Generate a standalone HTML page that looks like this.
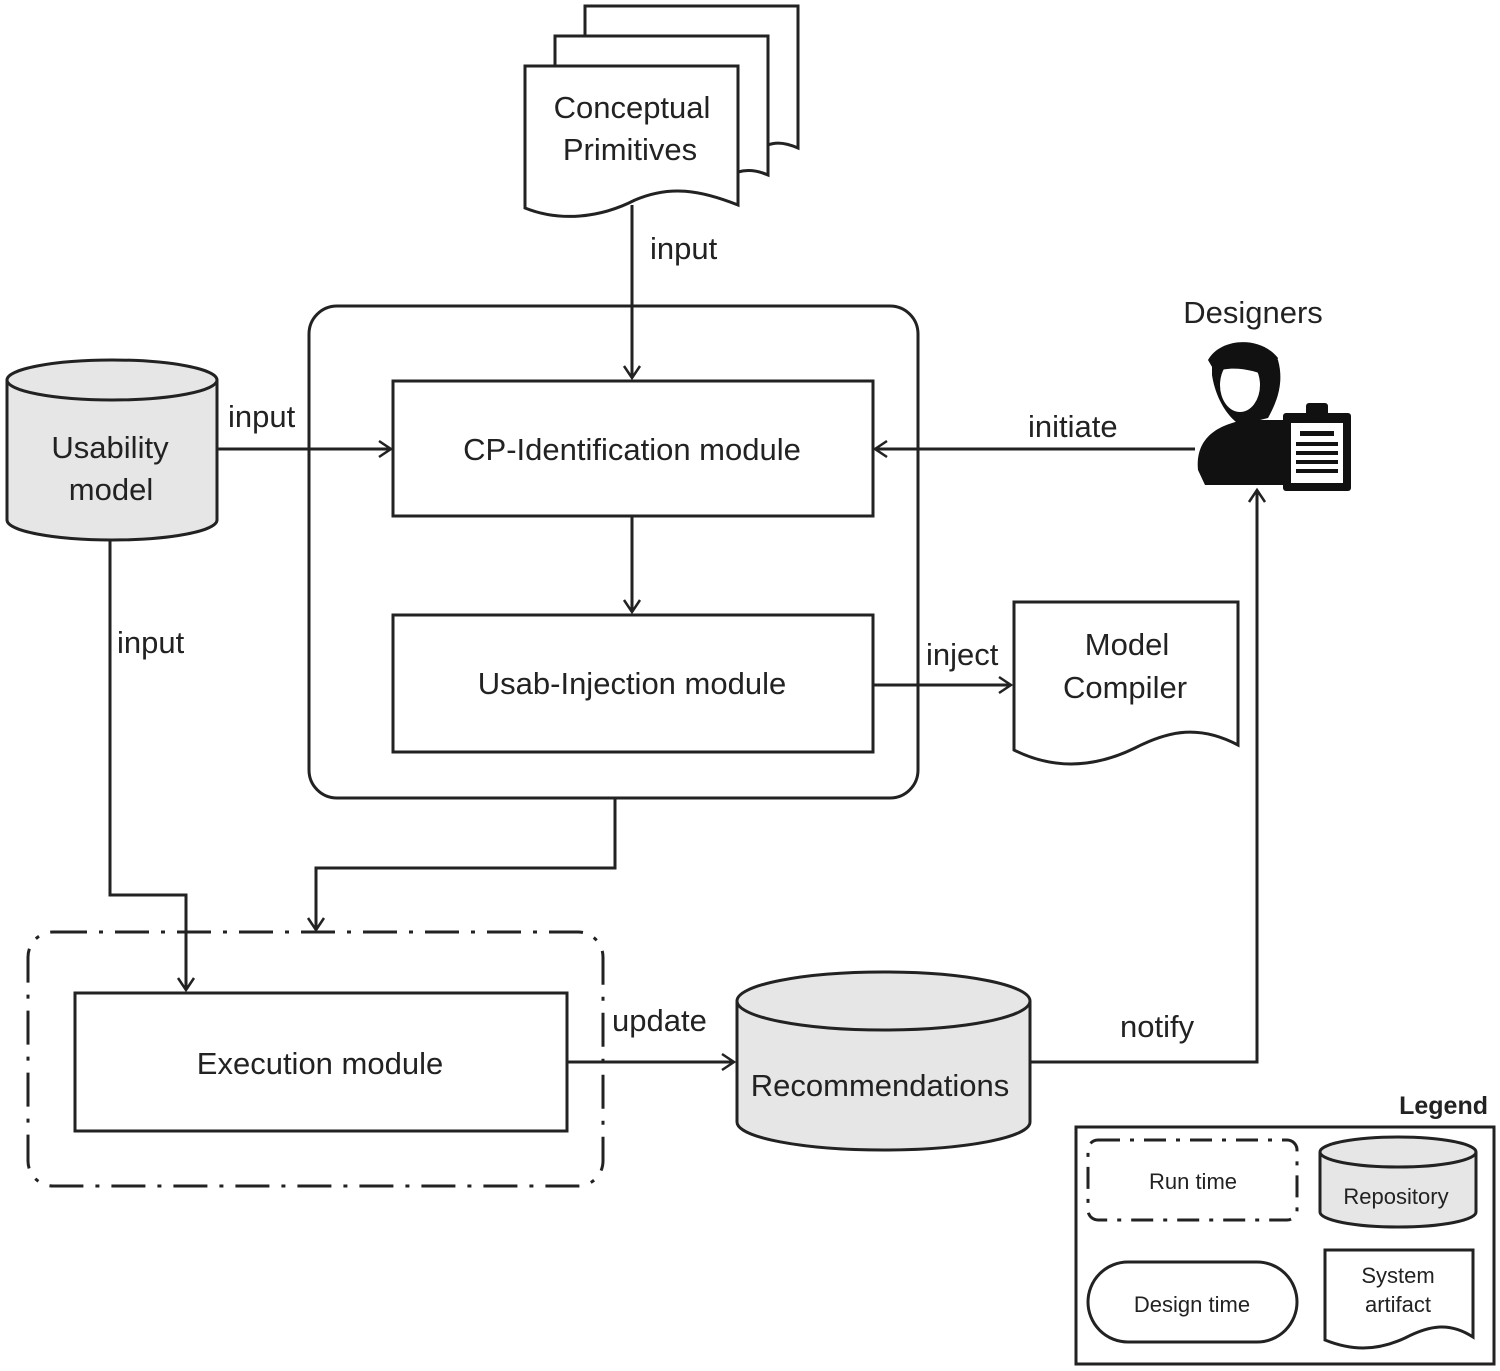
<!DOCTYPE html>
<html><head><meta charset="utf-8"><style>
html,body{margin:0;padding:0;background:#fff;}
svg{display:block;}
text{font-family:"Liberation Sans",Arial,sans-serif;fill:#222;}
</style></head><body>
<svg width="1500" height="1371" viewBox="0 0 1500 1371" xmlns="http://www.w3.org/2000/svg">
<defs>
<marker id="a" markerWidth="20" markerHeight="20" refX="15" refY="10" orient="auto" markerUnits="userSpaceOnUse">
<path d="M3,2 L15,10 L3,18" fill="none" stroke="#222" stroke-width="2.5"/>
</marker>
</defs>
<g stroke="#222" stroke-width="3" fill="#fff">
<path d="M585,6 H798 V148 Q780,140 768,145 V36 H585 Z"/>
<path d="M555,36 H768 V175 Q752,168 738,172 V66 H555 Z"/>
<path d="M525,66 H738 V205 C700,190 670,185 635,200 C600,218 560,222 525,208 Z"/>
<rect x="309" y="306" width="609" height="492" rx="28"/>
<rect x="393" y="381" width="480" height="135"/>
<rect x="393" y="615" width="480" height="137"/>
<path d="M7,380 V520 A105,20 0 0 0 217,520 V380" fill="#e6e6e6"/>
<ellipse cx="112" cy="380" rx="105" ry="20" fill="#e6e6e6"/>
<path d="M1014,602 H1238 V745 C1200,725 1170,730 1135,748 C1090,770 1050,768 1014,750 Z"/>
<rect x="28" y="932" width="575" height="254" rx="25" stroke-dasharray="34,12,4,12"/>
<rect x="75" y="993" width="492" height="138"/>
<path d="M737,1001 V1122 A146.5,28 0 0 0 1030,1122 V1001" fill="#e6e6e6"/>
<ellipse cx="883.5" cy="1001" rx="146.5" ry="29" fill="#e6e6e6"/>
<rect x="1076" y="1127" width="418" height="237"/>
<rect x="1088" y="1140" width="209" height="80" rx="10" stroke-dasharray="22,10,4,10"/>
<path d="M1320,1152 V1212 A78,15 0 0 0 1476,1212 V1152" fill="#e6e6e6"/>
<ellipse cx="1398" cy="1152" rx="78" ry="15" fill="#e6e6e6"/>
<rect x="1088" y="1262" width="209" height="80" rx="40"/>
<path d="M1325,1250 H1473 V1337 C1450,1322 1430,1325 1405,1338 C1375,1352 1350,1350 1325,1340 Z"/>
</g>
<g stroke="#222" stroke-width="3" fill="none">
<path d="M632,205 V378" marker-end="url(#a)"/>
<path d="M217,449 H391" marker-end="url(#a)"/>
<path d="M1195,449 H875" marker-end="url(#a)"/>
<path d="M632,516 V612" marker-end="url(#a)"/>
<path d="M873,685 H1011" marker-end="url(#a)"/>
<path d="M615,798 V868 H316 V930" marker-end="url(#a)"/>
<path d="M110,540 V895 H186 V990" marker-end="url(#a)"/>
<path d="M567,1062 H734" marker-end="url(#a)"/>
<path d="M1030,1062 H1257 V490" marker-end="url(#a)"/>
</g>
<g fill="#111">
<path d="M1198,470 C1195,440 1215,425 1245,420 L1290,420 L1290,485 L1205,485 Z"/>
<path d="M1212,355 C1225,338 1265,340 1278,360 C1285,385 1275,405 1268,418 L1240,425 C1225,415 1215,395 1212,375 Z"/>
<ellipse cx="1240" cy="385" rx="20" ry="27" fill="#fff"/>
<path d="M1208,360 C1220,338 1260,335 1278,358 L1272,378 C1255,370 1232,365 1215,372 Z"/>
<rect x="1283" y="413" width="68" height="78" rx="3"/>
<rect x="1291" y="423" width="52" height="60" fill="#fff"/>
<rect x="1306" y="403" width="22" height="14" rx="3"/>
<rect x="1300" y="431" width="34" height="5"/>
<rect x="1296" y="442" width="42" height="4"/>
<rect x="1296" y="451" width="42" height="4"/>
<rect x="1296" y="460" width="42" height="4"/>
<rect x="1296" y="469" width="42" height="4"/>
</g>
<g font-size="31" text-anchor="middle">
<text x="632" y="118">Conceptual</text>
<text x="630" y="160">Primitives</text>
<text x="632" y="460">CP-Identification module</text>
<text x="632" y="694">Usab-Injection module</text>
<text x="110" y="458">Usability</text>
<text x="111" y="500">model</text>
<text x="1127" y="655">Model</text>
<text x="1125" y="698">Compiler</text>
<text x="320" y="1074">Execution module</text>
<text x="880" y="1096">Recommendations</text>
<text x="1253" y="323">Designers</text>
</g>
<g font-size="31">
<text x="650" y="259">input</text>
<text x="228" y="427">input</text>
<text x="1028" y="437">initiate</text>
<text x="926" y="665">inject</text>
<text x="117" y="653">input</text>
<text x="612" y="1031">update</text>
<text x="1120" y="1037">notify</text>
</g>
<text x="1488" y="1114" font-size="25" font-weight="bold" text-anchor="end" fill="#111">Legend</text>
<g font-size="22" text-anchor="middle" fill="#555">
<text x="1193" y="1189">Run time</text>
<text x="1396" y="1204">Repository</text>
<text x="1192" y="1312">Design time</text>
<text x="1398" y="1283">System</text>
<text x="1398" y="1312">artifact</text>
</g>
</svg>
</body></html>
